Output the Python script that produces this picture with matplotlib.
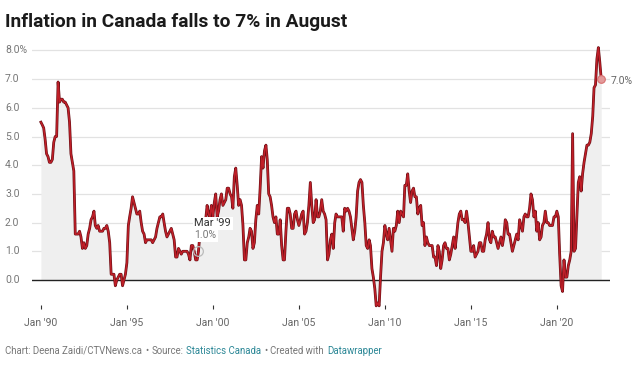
import numpy as np
import pandas as pd
import matplotlib
matplotlib.use('Agg')
import matplotlib.pyplot as plt
import matplotlib.patheffects as pe
from matplotlib.transforms import blended_transform_factory

plt.rcParams['font.family'] = ['Roboto', 'DejaVu Sans']

# CPI, year over year change (%), monthly from Jan 1990 to Aug 2022
first_month = '1990-01'
inflation_pct = [
    5.5, 5.4, 5.3, 4.9, 4.4, 4.3, 4.1, 4.1, 4.2, 4.8, 5.0, 5.0,   # 1990
    6.9, 6.2, 6.3, 6.3, 6.2, 6.2, 6.1, 6.0, 5.5, 4.4, 4.1, 3.8,   # 1991
    1.6, 1.6, 1.6, 1.7, 1.5, 1.1, 1.3, 1.1, 1.2, 1.6, 1.8, 2.1,   # 1992
    2.2, 2.4, 1.9, 1.8, 1.9, 1.7, 1.7, 1.7, 1.8, 1.8, 1.9, 1.7,   # 1993
    1.3, 0.2, 0.2, 0.2, -0.2, 0.0, 0.1, 0.2, 0.2, -0.2, 0.0, 0.2, # 1994
    0.6, 1.9, 2.2, 2.5, 2.9, 2.7, 2.5, 2.3, 2.3, 2.4, 2.0, 1.7,   # 1995
    1.6, 1.3, 1.4, 1.4, 1.4, 1.4, 1.3, 1.4, 1.5, 1.8, 2.0, 2.2,   # 1996
    2.2, 2.3, 2.0, 1.7, 1.5, 1.6, 1.7, 1.8, 1.6, 1.4, 0.8, 0.8,   # 1997
    1.1, 1.0, 0.9, 1.0, 1.0, 1.0, 1.0, 0.9, 0.7, 1.2, 1.2, 1.0,   # 1998
    0.7, 0.7, 1.0, 1.6, 1.6, 1.6, 1.8, 2.1, 2.6, 2.3, 2.2, 2.6,   # 1999
    2.2, 2.7, 3.0, 2.2, 2.4, 2.8, 3.0, 2.6, 2.7, 2.8, 3.2, 3.2,   # 2000
    3.0, 2.9, 2.5, 3.6, 3.9, 3.3, 2.6, 2.8, 2.6, 1.9, 0.7, 0.7,   # 2001
    1.3, 1.5, 1.8, 1.7, 1.1, 1.3, 2.1, 2.6, 2.3, 3.2, 4.3, 3.9,   # 2002
    4.5, 4.7, 4.2, 3.0, 2.9, 2.6, 2.2, 2.0, 2.2, 1.6, 1.6, 2.1,   # 2003
    1.2, 0.7, 0.7, 1.7, 2.5, 2.5, 2.3, 1.8, 1.8, 2.3, 2.4, 2.1,   # 2004
    1.9, 2.1, 2.3, 2.4, 1.6, 1.7, 2.0, 2.6, 3.4, 2.6, 2.0, 2.1,   # 2005
    2.8, 2.2, 2.2, 2.4, 2.8, 2.4, 2.3, 2.1, 0.7, 0.9, 1.4, 1.6,   # 2006
    1.1, 2.0, 2.3, 2.2, 2.2, 2.2, 2.2, 1.7, 2.5, 2.4, 2.5, 2.4,   # 2007
    2.2, 1.8, 1.4, 1.7, 2.2, 3.1, 3.4, 3.5, 3.4, 2.6, 2.0, 1.2,   # 2008
    1.1, 1.4, 1.2, 0.4, 0.1, -0.3, -0.9, -0.8, -0.9, 0.1, 1.0, 1.3, # 2009
    1.9, 1.6, 1.4, 1.8, 1.4, 1.0, 1.8, 1.7, 1.9, 2.4, 2.0, 2.4,   # 2010
    2.3, 2.2, 3.3, 3.3, 3.7, 3.1, 2.7, 3.1, 3.2, 2.9, 2.9, 2.3,   # 2011
    2.5, 2.6, 1.9, 2.0, 1.2, 1.5, 1.3, 1.2, 1.2, 1.2, 0.8, 0.8,   # 2012
    0.5, 1.2, 1.0, 0.4, 0.7, 1.2, 1.3, 1.1, 1.1, 0.7, 0.9, 1.2,   # 2013
    1.5, 1.1, 1.5, 2.0, 2.3, 2.4, 2.1, 2.1, 2.0, 2.4, 2.0, 1.5,   # 2014
    1.0, 1.0, 1.2, 0.8, 0.9, 1.0, 1.3, 1.3, 1.0, 1.0, 1.4, 1.6,   # 2015
    2.0, 1.4, 1.3, 1.7, 1.5, 1.5, 1.3, 1.1, 1.3, 1.5, 1.2, 1.5,   # 2016
    2.1, 2.0, 1.6, 1.6, 1.3, 1.0, 1.2, 1.4, 1.6, 1.4, 2.1, 1.9,   # 2017
    1.7, 2.2, 2.3, 2.2, 2.2, 2.5, 3.0, 2.8, 2.2, 2.4, 1.7, 2.0,   # 2018
    1.4, 1.5, 1.9, 2.0, 2.4, 2.0, 2.0, 1.9, 1.9, 1.9, 2.2, 2.2,   # 2019
    2.4, 2.2, 0.9, -0.2, -0.4, 0.7, 0.1, 0.1, 0.5, 0.7, 1.0, 5.1, # 2020
    1.0, 1.1, 2.2, 3.4, 3.6, 3.1, 3.7, 4.1, 4.4, 4.7, 4.7, 4.8,   # 2021
    5.1, 5.7, 6.7, 6.8, 7.7, 8.1, 7.6, 7.0,                       # 2022
]

y_ticks = [0, 1, 2, 3, 4, 5, 6, 7, 8]
tick_years = [1990, 1995, 2000, 2005, 2010, 2015, 2020]
highlight_month = '1999-03'

title = 'Inflation in Canada falls to 7% in August'
footer_parts = ['Chart: Deena Zaidi/CTVNews.ca', '\u2022', 'Source:', 'Statistics Canada',
                '\u2022', 'Created with', 'Datawrapper']
footer_colors = ['#777777', '#777777', '#777777', '#2b8796', '#777777', '#777777', '#2b8796']

dates = pd.date_range(first_month, periods=len(inflation_pct), freq='MS')
vals = np.array(inflation_pct)

W, H = 640, 366
fig = plt.figure(figsize=(W / 100, H / 100), dpi=100)
ax = fig.add_axes([32 / W, (H - 308.7) / H, 578 / W, 264 / H])
ax.set_xlim(pd.Timestamp('1989-06-26'), pd.Timestamp('2023-02-03'))
ax.set_ylim(-1.0, 8.2)
for s in ax.spines.values():
    s.set_visible(False)

# gridlines
for v in y_ticks:
    if v == 0:
        ax.axhline(v, color='#222222', lw=1.0, zorder=2)
    else:
        ax.axhline(v, color='#e2e2e2', lw=0.9, zorder=0)

# y labels on the far left
trans = blended_transform_factory(fig.transFigure, ax.transData)
for v in y_ticks:
    lab = '%.1f%%' % v if v == y_ticks[-1] else '%.1f' % v
    ax.text(5 / W, v, lab, transform=trans, ha='left', va='center',
            fontsize=7.5, color='#777777')
ax.set_yticks([])

# area + line
ax.fill_between(dates, vals, 0, color='#efefef', lw=0, zorder=1)
ax.plot(dates, vals, color='#c01f28', lw=1.1, zorder=3, clip_on=False,
        path_effects=[pe.Stroke(linewidth=2.0, foreground='#6a1016'), pe.Normal()])

# x ticks
ax.set_xticks([pd.Timestamp('%d-01-01' % y) for y in tick_years])
ax.set_xticklabels(["Jan '%02d" % (y % 100) for y in tick_years])
ax.tick_params(axis='x', direction='in', length=3, width=0.8, color='#333333',
               pad=7, labelsize=7.5, labelcolor='#666666')

# hover annotation (tooltip box hides the line behind it)
hi = dates.get_loc(pd.Timestamp(highlight_month))
hx, hy = dates[hi], vals[hi]
ax.plot(hx, hy, 'o', ms=7, mfc='none', mec='#bbbbbb', mew=0.9, zorder=4)
box = dict(boxstyle='square,pad=0.15', fc='white', ec='none')
ax.annotate('%.1f%%' % hy, (hx, hy), xytext=(-4, 16), textcoords='offset pixels',
            ha='left', va='center', fontsize=7.5, color='#777777', zorder=5, bbox=box)
ax.annotate(hx.strftime("%b '%y"), (hx, hy), xytext=(-4, 28), textcoords='offset pixels',
            ha='left', va='center', fontsize=8, color='#333333', zorder=6, bbox=box)

# last value
ax.plot(dates[-1], vals[-1], 'o', ms=5.5, mfc='#e39a9a', mec='#d77070', mew=0.8,
        zorder=4, clip_on=False)
ax.annotate('%.1f%%' % vals[-1], (dates[-1], vals[-1]), xytext=(9, -2),
            textcoords='offset pixels', ha='left', va='center',
            fontsize=7.5, color='#666666', annotation_clip=False)

# title
fig.text(5 / W, 1 - 22 / H, title, fontsize=13.8, fontweight='bold',
         color='#1a1a1a', ha='left', va='center')

# footer, pieced together so the links can be coloured
fig.canvas.draw()
r = fig.canvas.get_renderer()
x = 5.0
for part, col in zip(footer_parts, footer_colors):
    t = fig.text(x / W, (H - 351) / H, part, fontsize=6.9, color=col,
                 ha='left', va='center')
    bb = t.get_window_extent(r)
    x = bb.x1 + 3

fig.savefig('out.png', dpi=100)
